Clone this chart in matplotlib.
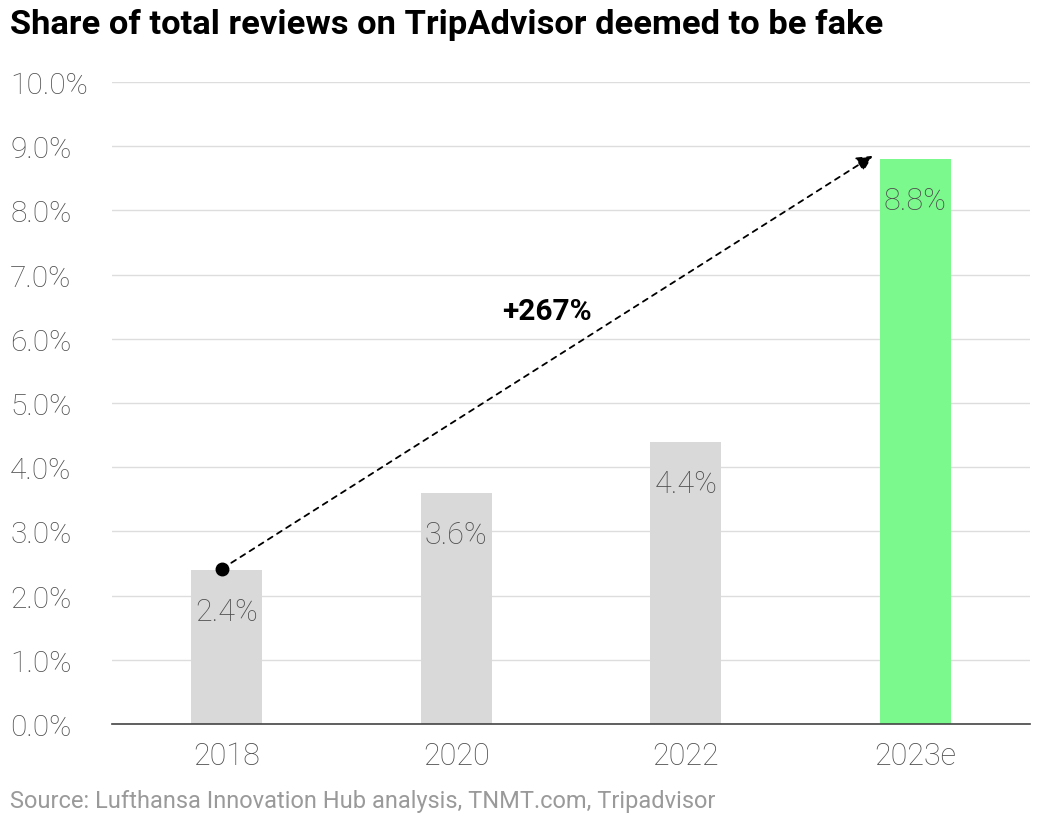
import matplotlib
matplotlib.use("Agg")
import matplotlib.pyplot as plt

categories = ["2018", "2020", "2022", "2023e"]
values = [2.4, 3.6, 4.4, 8.8]
value_labels = ["2.4%", "3.6%", "4.4%", "8.8%"]
y_ticks = [0, 1, 2, 3, 4, 5, 6, 7, 8, 9, 10]
y_tick_labels = ["0.0%", "1.0%", "2.0%", "3.0%", "4.0%", "5.0%", "6.0%", "7.0%", "8.0%", "9.0%", "10.0%"]
growth_label = "+267%"
title = "Share of total reviews on TripAdvisor deemed to be fake"
source = "Source: Lufthansa Innovation Hub analysis, TNMT.com, Tripadvisor"

colors = ["#d9d9d9", "#d9d9d9", "#d9d9d9", "#7bf98c"]
txt_color = "#4e4e4e"

fig = plt.figure(figsize=(10.4, 8.28), dpi=100)
ax = fig.add_axes([112/1040, 1-725/828, (1030-112)/1040, (725-83)/828])

x = list(range(len(categories)))
bw = 0.31
ax.bar(x, values, width=bw, color=colors, zorder=2)
ax.set_xlim(-0.5, len(categories)-0.5)
ax.set_ylim(0, 10)

ax.set_yticks(y_ticks)
ax.set_yticklabels(y_tick_labels, fontfamily="Roboto", fontweight="light", fontsize=21.5, color=txt_color)
ax.set_xticks(x)
ax.set_xticklabels(categories, fontfamily="Roboto", fontweight="light", fontsize=22, color=txt_color)
ax.tick_params(axis="both", length=0)
ax.tick_params(axis="y", pad=102*0.72)
ax.tick_params(axis="x", pad=12)
for lab in ax.get_yticklabels():
    lab.set_horizontalalignment("left")

ax.grid(axis="y", color="#dddddd", linewidth=1, zorder=0)
for s in ["top", "right", "left"]:
    ax.spines[s].set_visible(False)
ax.spines["bottom"].set_color("#444444")
ax.spines["bottom"].set_linewidth(1.2)
ax.spines["bottom"].set_zorder(3)

for xi, v, lab in zip(x, values, value_labels):
    ax.text(xi, v - 0.65, lab, ha="center", va="center", fontfamily="Roboto",
            fontweight="light", fontsize=22, color=txt_color, zorder=4)

# growth arrow
x0, y0 = x[0] - 0.02, values[0] + 0.02
x1, y1 = x[-1] - bw/2 - 0.03, values[-1] + 0.05
ax.annotate("", xy=(x1, y1), xytext=(x0, y0),
            arrowprops=dict(arrowstyle="-|>", linestyle=(0, (3, 3)), color="black",
                            lw=1.3, mutation_scale=24, shrinkA=0, shrinkB=0), zorder=5)
ax.plot([x0], [y0], "o", color="black", markersize=9, zorder=6)
ax.text(1.395, 6.43, growth_label, ha="center", va="center", fontfamily="Roboto",
        fontweight="bold", fontsize=21.5, color="black", zorder=6)

fig.text(10/1040, 1-25/828, title, ha="left", va="center", fontfamily="Roboto",
         fontweight="bold", fontsize=24.8, color="black")
fig.text(10/1040, 1-802/828, source, ha="left", va="center",
         fontfamily="Roboto", fontweight="normal", fontsize=17, color="#9a9a9a")

fig.savefig("out.png", dpi=100)
